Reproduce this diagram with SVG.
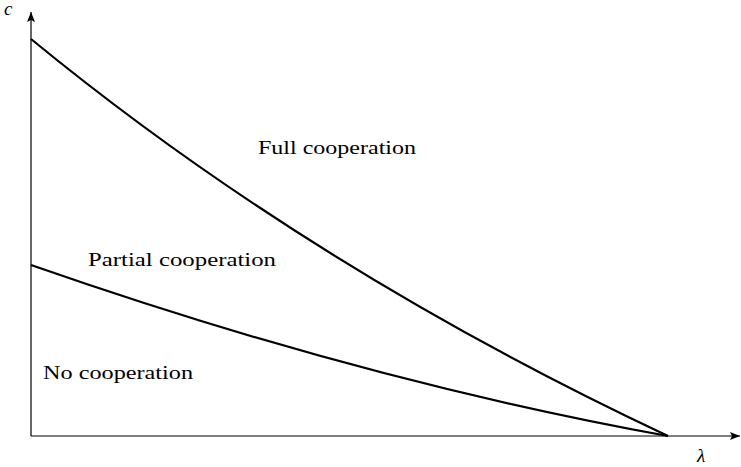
<svg xmlns="http://www.w3.org/2000/svg" width="741" height="467" viewBox="0 0 741 467">
<style>
.axis{stroke:#000;stroke-width:1.2;fill:none}
.curve{stroke:#000;stroke-width:2.2;fill:none}
text{font-family:'Liberation Serif','Times New Roman','DejaVu Serif','Noto Serif',serif;fill:#000}
.lbl{font-size:18.5px}
.var{font-style:italic;font-size:19px}
</style>
<defs>
<marker id="arr" viewBox="0 0 10 8" refX="10" refY="4" markerWidth="10" markerHeight="8" markerUnits="userSpaceOnUse" orient="auto">
<path d="M0,0 L10,4 L0,8 L2,4 Z" fill="#000"/>
</marker>
</defs>
<g id="connectors">
<path id="y-axis" class="axis" d="M31,436 L31,12" marker-end="url(#arr)"/>
<path id="x-axis" class="axis" d="M31,436 L740,436" marker-end="url(#arr)"/>
<path id="upper-curve" class="curve" d="M31,39 Q310,268 668,436"/>
<path id="lower-curve" class="curve" d="M31,265 Q363,381 668,436"/>
</g>
<g id="label-c"><text class="var" x="4" y="15">c</text></g>
<g id="label-lambda"><text class="var" x="697" y="462">λ</text></g>
<g id="full"><text class="lbl" x="258" y="154" textLength="158" lengthAdjust="spacingAndGlyphs">Full cooperation</text></g>
<g id="partial"><text class="lbl" x="88" y="266" textLength="188" lengthAdjust="spacingAndGlyphs">Partial cooperation</text></g>
<g id="none"><text class="lbl" x="43" y="379" textLength="150" lengthAdjust="spacingAndGlyphs">No cooperation</text></g>
</svg>
